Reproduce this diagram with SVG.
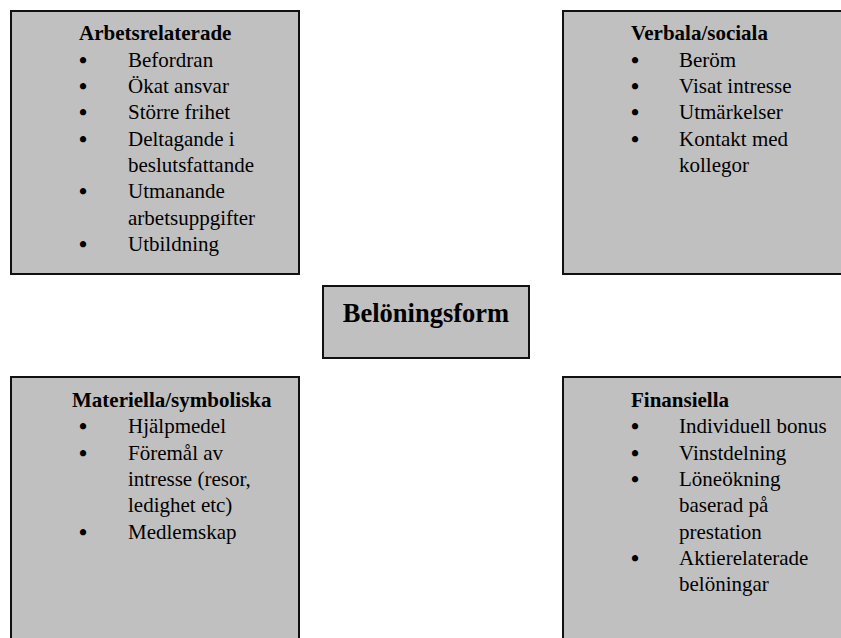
<svg xmlns="http://www.w3.org/2000/svg" width="841" height="638" viewBox="0 0 841 638">
<style>
.box{fill:#c0c0c0;stroke:#111;stroke-width:2}
text{font-family:"Liberation Serif","Times New Roman",serif;font-size:21px;fill:#000}
.t{font-weight:bold}
.b{font-size:23px;font-weight:bold}
.c{font-weight:bold;font-size:26.5px;text-anchor:middle}
</style>
<rect width="841" height="638" fill="#fff"/>
<g id="arbetsrelaterade">
<rect class="box" x="11" y="11" width="288" height="263"/>
<text class="t" x="79" y="40">Arbetsrelaterade</text>
<text class="b" x="79" y="67.7">•</text><text x="128" y="66.7">Befordran</text>
<text class="b" x="79" y="94">•</text><text x="128" y="93">Ökat ansvar</text>
<text class="b" x="79" y="120.3">•</text><text x="128" y="119.3">Större frihet</text>
<text class="b" x="79" y="146.6">•</text><text x="128" y="145.6">Deltagande i</text>
<text x="128" y="171.9">beslutsfattande</text>
<text class="b" x="79" y="199.2">•</text><text x="128" y="198.2">Utmanande</text>
<text x="128" y="224.5">arbetsuppgifter</text>
<text class="b" x="79" y="251.8">•</text><text x="128" y="250.8">Utbildning</text>
</g>
<g id="verbala">
<rect class="box" x="563" y="11" width="290" height="263"/>
<text class="t" x="631" y="40">Verbala/sociala</text>
<text class="b" x="631" y="67.7">•</text><text x="679" y="66.7">Beröm</text>
<text class="b" x="631" y="94">•</text><text x="679" y="93">Visat intresse</text>
<text class="b" x="631" y="120.3">•</text><text x="679" y="119.3">Utmärkelser</text>
<text class="b" x="631" y="146.6">•</text><text x="679" y="145.6">Kontakt med</text>
<text x="679" y="171.9">kollegor</text>
</g>
<g id="beloningsform">
<rect class="box" x="323" y="286" width="206" height="72"/>
<text class="c" x="426" y="322">Belöningsform</text>
</g>
<g id="materiella">
<rect class="box" x="11" y="377" width="288" height="280"/>
<text class="t" x="72" y="406.7">Materiella/symboliska</text>
<text class="b" x="79" y="434.3">•</text><text x="128" y="433.3">Hjälpmedel</text>
<text class="b" x="79" y="460.6">•</text><text x="128" y="459.6">Föremål av</text>
<text x="128" y="485.9">intresse (resor,</text>
<text x="128" y="512.2">ledighet etc)</text>
<text class="b" x="79" y="539.5">•</text><text x="128" y="538.5">Medlemskap</text>
</g>
<g id="finansiella">
<rect class="box" x="563" y="377" width="290" height="280"/>
<text class="t" x="631" y="406.7">Finansiella</text>
<text class="b" x="631" y="434.3">•</text><text x="679" y="433.3">Individuell bonus</text>
<text class="b" x="631" y="460.6">•</text><text x="679" y="459.6">Vinstdelning</text>
<text class="b" x="631" y="486.9">•</text><text x="679" y="485.9">Löneökning</text>
<text x="679" y="512.2">baserad på</text>
<text x="679" y="538.5">prestation</text>
<text class="b" x="631" y="565.8">•</text><text x="679" y="564.8">Aktierelaterade</text>
<text x="679" y="591.1">belöningar</text>
</g>
</svg>
